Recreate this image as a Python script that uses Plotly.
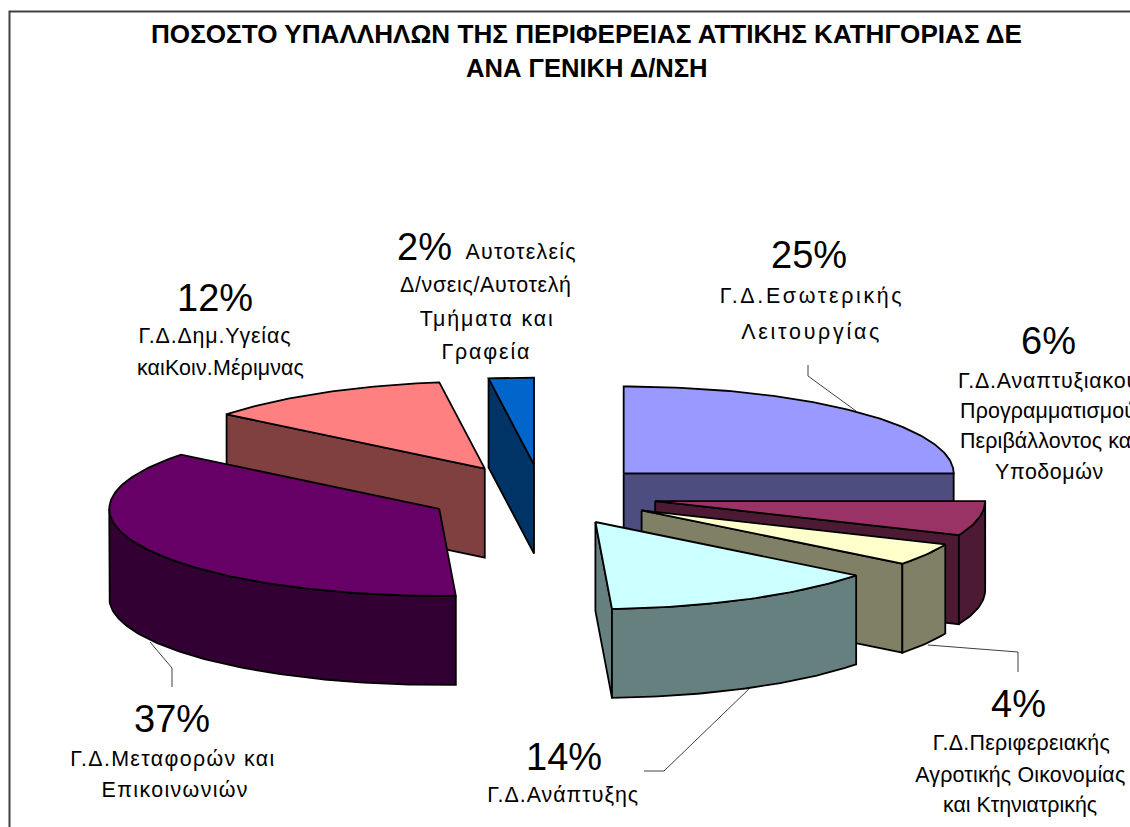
import json
import math
import plotly.graph_objects as go

categories = ["Γ.Δ.Εσωτερικής Λειτουργίας",
              "Γ.Δ.Αναπτυξιακού Προγραμματισμού Περιβάλλοντος και Υποδομών",
              "Γ.Δ.Περιφερειακής Αγροτικής Οικονομίας και Κτηνιατρικής",
              "Γ.Δ.Ανάπτυξης",
              "Γ.Δ.Μεταφορών και Επικοινωνιών",
              "Γ.Δ.Δημ.Υγείας καιΚοιν.Μέριμνας",
              "Αυτοτελείς Δ/νσεις/Αυτοτελή Τμήματα και Γραφεία"]
values = [25.0, 6.4, 4.1, 13.7, 36.5, 12.1, 2.2]
top_colors = ["#9999FF", "#993366", "#FFFFCC", "#CCFFFF", "#660066", "#FF8080", "#0066CC"]
side_colors = ["#4D4D80", "#4D1A33", "#808066", "#668080", "#330033", "#804040", "#003366"]
draw_order = [0, 1, 2, 3, 6, 5, 4]

title_lines = ["ΠΟΣΟΣΤΟ ΥΠΑΛΛΗΛΩΝ ΤΗΣ ΠΕΡΙΦΕΡΕΙΑΣ ΑΤΤΙΚΗΣ ΚΑΤΗΓΟΡΙΑΣ ΔΕ", "ΑΝΑ ΓΕΝΙΚΗ Δ/ΝΣΗ"]

# Projection of the tilted pie
CX, CY = 542, 495
RX, RY = 330, 87
DEPTH = 89
EXPLODE = 0.35


def pt(apex, deg, r=1.0, drop=0):
    t = math.radians(deg)
    return (apex[0] + r * RX * math.sin(t), apex[1] - r * RY * math.cos(t) + drop)


def arc(apex, a, b, drop=0):
    n = max(2, int(abs(b - a)) + 1)
    return [pt(apex, a + (b - a) * i / (n - 1), 1.0, drop) for i in range(n)]


def poly(points, fill):
    xs = [p[0] for p in points] + [points[0][0]]
    ys = [p[1] for p in points] + [points[0][1]]
    return go.Scatter(x=xs, y=ys, mode="lines", fill="toself", fillcolor=fill,
                      line=dict(color="black", width=1.8), hoverinfo="skip", showlegend=False)


fig = go.Figure()
total = sum(values)
starts = [sum(values[:i]) / total * 360 for i in range(len(values))]
for i in draw_order:
    a = starts[i]
    b = a + values[i] / total * 360
    m = (a + b) / 2
    apex = pt((CX, CY), m, EXPLODE)
    if math.sin(math.radians(b)) > 0.01:
        e = pt(apex, b)
        fig.add_trace(poly([apex, e, (e[0], e[1] + DEPTH), (apex[0], apex[1] + DEPTH)], side_colors[i]))
    if math.sin(math.radians(a)) < -0.01:
        e = pt(apex, a)
        fig.add_trace(poly([apex, e, (e[0], e[1] + DEPTH), (apex[0], apex[1] + DEPTH)], side_colors[i]))
    lo, hi = max(a, 90), min(b, 270)
    if lo < hi:
        fig.add_trace(poly(arc(apex, lo, hi) + arc(apex, hi, lo, DEPTH), side_colors[i]))
    fig.add_trace(poly([apex] + arc(apex, a, b), top_colors[i]))

FONT = "Liberation Sans, Arial, sans-serif"
annots = []


def text(x, y, s, size, bold=False):
    annots.append(dict(x=x, y=y, xref="x", yref="y", text=f"<b>{s}</b>" if bold else s,
                       showarrow=False, xanchor="center", yanchor="middle",
                       font=dict(family=FONT, size=size, color="black")))


text(586, 33.5, title_lines[0], 26.1, True)
text(587, 68, title_lines[1], 25.6, True)

PCT = 38
for x, y, s in [(215, 298, "12%"), (424, 247, "2%"), (809, 255, "25%"), (1048, 341, "6%"),
                (172, 719, "37%"), (564, 757, "14%"), (1018, 704, "4%")]:
    text(x, y, s, PCT)

# Label lines are set with the same glyph size and stretched to the measured line width
LBL = 21.4
label_lines = [
    (214, 336, "Γ.Δ.Δημ.Υγείας", 152), (220.5, 368, "καιΚοιν.Μέριμνας", 167),
    (520, 252, "Αυτοτελείς", 110), (485.5, 285, "Δ/νσεις/Αυτοτελή", 171),
    (486.5, 319, "Τμήματα και", 133), (485, 352, "Γραφεία", 88),
    (810, 296, "Γ.Δ.Εσωτερικής", 182), (810, 332, "Λειτουργίας", 138),
    (1048, 381, "Γ.Δ.Αναπτυξιακού", 180), (1048, 411, "Προγραμματισμού", 176),
    (1048, 441, "Περιβάλλοντος και", 176), (1049, 472, "Υποδομών", 108),
    (172, 759, "Γ.Δ.Μεταφορών και", 204), (174, 790, "Επικοινωνιών", 146),
    (562.5, 795, "Γ.Δ.Ανάπτυξης", 151),
    (1021.5, 743, "Γ.Δ.Περιφερειακής", 177), (1020, 775, "Αγροτικής Οικονομίας", 210),
    (1020, 805, "και Κτηνιατρικής", 154),
]
for x, y, s, _w in label_lines:
    text(x, y, s, LBL)
line_widths = {s: w for _x, _y, s, w in label_lines}


def leader(path):
    return dict(type="path", path=path, xref="x", yref="y", layer="below",
                line=dict(color="#404040", width=1))


shapes = [
    leader("M 808 365 L 808 376 L 856 411"),
    leader("M 172 687 L 172 668 L 150 642"),
    leader("M 644 771 L 664 771 L 750 688"),
    leader("M 1018 672 L 1018 652 L 928 645"),
    dict(type="path", path="M 1130 11.5 L 9.5 11.5 L 9.5 827", xref="x", yref="y",
         line=dict(color="#404040", width=2)),
]

fig.update_layout(
    width=1130, height=827, margin=dict(l=0, r=0, t=0, b=0),
    paper_bgcolor="white", plot_bgcolor="white", showlegend=False,
    xaxis=dict(range=[0, 1130], visible=False, fixedrange=True),
    yaxis=dict(range=[827, 0], visible=False, fixedrange=True),
    annotations=annots, shapes=shapes,
)
post = (
    "document.body.style.margin='0';document.documentElement.style.overflow='hidden';"
    "var W=" + json.dumps(line_widths, ensure_ascii=False) + ";"
    "function fit(){document.querySelectorAll('.annotation-text').forEach(function(t){"
    "var k=W[t.textContent];if(k){t.setAttribute('textLength',k);t.setAttribute('lengthAdjust','spacing');}});}"
    "fit();setTimeout(fit,50);setTimeout(fit,300);"
)
fig.write_html("out.html", post_script=post, config=dict(displayModeBar=False, staticPlot=True))
